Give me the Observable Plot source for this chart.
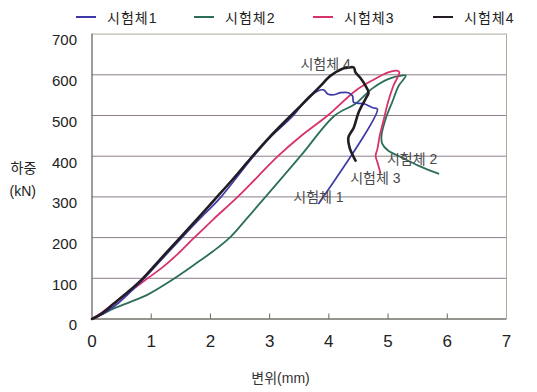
<!DOCTYPE html>
<html>
<head>
<meta charset="utf-8">
<script src="https://cdn.jsdelivr.net/npm/d3@7"></script>
<script src="https://cdn.jsdelivr.net/npm/@observablehq/plot@0.6"></script>
<style>
  body { margin: 0; background: #fff; font-family: "Liberation Sans", "Noto Sans CJK KR", sans-serif; }
  #legend { position: relative; width: 537px; height: 26px; font-size: 14px; color: #222; }
  #legend .item { position: absolute; top: 7px; display: flex; align-items: center; letter-spacing: 1px; }
  #legend .sw { display: inline-block; width: 20px; height: 0; border-top: 2px solid; margin-right: 11px; }
  #chart svg { display: block; }
</style>
</head>
<body>
<div id="legend"></div>
<div id="chart"></div>
<script>
// Load–displacement curves of four specimens (변위 mm, 하중 kN)
const seriesNames = ["시험체1", "시험체2", "시험체3", "시험체4"];
const seriesColors = ["#3d3aa5", "#2d6e5a", "#d8326a", "#231c24"];

const disp1 = [0, 0.2, 0.45, 0.8, 1.2, 1.55, 1.9, 2.15, 2.7, 3.0, 3.38, 3.69, 3.91, 3.98, 4.08, 4.2, 4.33, 4.4, 4.42, 4.59, 4.74, 4.82, 3.83];
const load1 = [0, 14, 40, 88, 150, 205, 258, 295, 395, 445, 497, 549, 563, 553, 551, 556, 556, 548, 532, 529, 519, 516, 284];

const disp2 = [0, 0.15, 0.37, 0.65, 0.94, 1.33, 1.79, 2.05, 2.34, 2.62, 2.93, 3.52, 4.1, 4.45, 4.73, 5.01, 5.23, 5.3, 5.18, 5.07, 4.96, 4.89, 4.9, 5.0, 5.23, 5.51, 5.85];
const load2 = [0, 10, 26, 42, 60, 94, 140, 167, 202, 248, 300, 400, 500, 529, 566, 590, 598, 598, 573, 533, 492, 451, 431, 414, 397, 377, 357];

const disp3 = [0, 0.15, 0.4, 0.66, 0.94, 1.2, 1.45, 1.7, 2.05, 2.46, 2.8, 3.14, 3.55, 3.98, 4.45, 4.73, 5.0, 5.15, 5.19, 5.09, 5.0, 4.93, 4.86, 4.82, 4.79, 4.82, 4.87];
const load3 = [0, 14, 42, 70, 100, 128, 160, 196, 245, 300, 350, 400, 452, 500, 561, 586, 606, 610, 606, 573, 533, 492, 451, 418, 401, 385, 360];

const disp4 = [0, 0.15, 0.37, 0.62, 0.86, 1.16, 1.52, 1.84, 2.1, 2.4, 2.68, 3.0, 3.36, 3.69, 3.86, 4.03, 4.23, 4.3, 4.42, 4.45, 4.54, 4.62, 4.67, 4.62, 4.5, 4.42, 4.33, 4.35, 4.45];
const load4 = [0, 12, 38, 68, 100, 148, 205, 256, 298, 347, 395, 447, 500, 548, 573, 598, 615, 617, 618, 606, 591, 573, 556, 541, 507, 470, 446, 421, 389];

// In-plot specimen labels (data coordinates of the label's left edge)
const noteText = ["시험체 1", "시험체 2", "시험체 3", "시험체 4"];
const noteDisp = [3.40, 4.98, 4.36, 3.52];
const noteLoad = [298, 392, 345, 625];

const xTicks = [0, 1, 2, 3, 4, 5, 6, 7];
const yTicks = [0, 100, 200, 300, 400, 500, 600, 700];
const xTitle = "변위(mm)";
const yTitle = ["하중", "(kN)"];

// legend
const legendLeft = [76, 194, 313, 433];
const legend = document.getElementById("legend");
seriesNames.forEach((name, i) => {
  const item = document.createElement("div");
  item.className = "item";
  item.style.left = legendLeft[i] + "px";
  const sw = document.createElement("span");
  sw.className = "sw";
  sw.style.borderColor = seriesColors[i];
  item.appendChild(sw);
  item.appendChild(document.createTextNode(name));
  legend.appendChild(item);
});

const curves = [[disp1, load1], [disp2, load2], [disp3, load3], [disp4, load4]]
  .map(([xs, ys], i) => xs.map((x, j) => ({series: seriesNames[i], x, y: ys[j]})));
const notes = noteText.map((t, i) => ({t, x: noteDisp[i], y: noteLoad[i]}));

const W = 537, H = 366;
const mT = 7.6, mB = 73.5, mL = 91.5, mR = 31;
const frameH = H - mT - mB;
const font = "'Liberation Sans', 'Noto Sans CJK KR', sans-serif";

// drawing order: 2, 3, 1, 4 (black on top)
const order = [1, 2, 0, 3];
const widths = [1.7, 1.8, 1.8, 2.6];

const chart = Plot.plot({
  width: W,
  height: H,
  marginTop: mT,
  marginBottom: mB,
  marginLeft: mL,
  marginRight: mR,
  style: {fontFamily: font, background: "#fff", color: "#222"},
  x: {domain: [0, 7]},
  y: {domain: [0, 700]},
  marks: [
    Plot.ruleY(yTicks.slice(1, -1), {stroke: "#8a7e8a", strokeWidth: 1}),
    Plot.frame({stroke: "#b0aa98", strokeWidth: 1}),
    Plot.ruleY([0], {stroke: "#555", strokeWidth: 1}),
    Plot.ruleX([0], {stroke: "#666", strokeWidth: 1}),
    Plot.tickX(xTicks.slice(1, -1), {stroke: "#666", insetTop: frameH - 5}),
    ...order.map(i => Plot.line(curves[i], {
      x: "x", y: "y", stroke: seriesColors[i], strokeWidth: widths[i],
      curve: "catmull-rom", strokeLinejoin: "round", strokeLinecap: "round"
    })),
    Plot.text(notes, {x: "x", y: "y", text: "t", textAnchor: "start", fontSize: 14, fill: "#4a4a4a"}),
    Plot.axisX({ticks: xTicks, tickFormat: d3.format("d"), tickSize: 0, tickPadding: 16, fontSize: 17, label: null}),
    Plot.axisY({ticks: yTicks, tickFormat: d3.format("d"), tickSize: 0, tickPadding: 15, dy: 6.5, fontSize: 15, label: null}),
    Plot.text([xTitle], {frameAnchor: "bottom", dx: 280 - (mL + (W - mR)) / 2, dy: 356 - (H - mB), fontSize: 14, fill: "#333"}),
    Plot.text([yTitle[0]], {frameAnchor: "top-left", textAnchor: "start", dx: 10 - mL, dy: 136.5 - mT, fontSize: 14, fill: "#222"}),
    Plot.text([yTitle[1]], {frameAnchor: "top-left", textAnchor: "start", dx: 9 - mL, dy: 160 - mT, fontSize: 14, fill: "#222"})
  ]
});
document.getElementById("chart").appendChild(chart);
</script>
</body>
</html>
